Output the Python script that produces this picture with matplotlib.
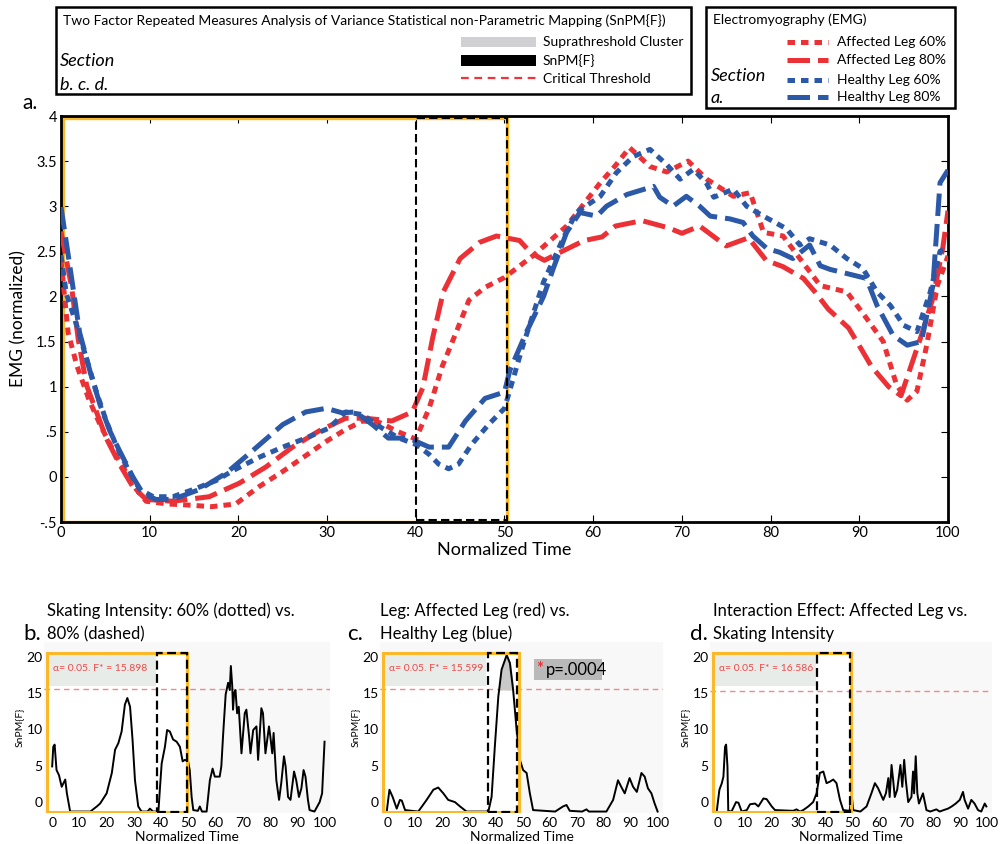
import numpy as np
import matplotlib
matplotlib.use('Agg')
import matplotlib.pyplot as plt
from matplotlib.patches import Rectangle
from matplotlib.lines import Line2D

plt.rcParams['font.family'] = ['Lato', 'DejaVu Sans']

# ---------------- Section a: EMG curves ----------------
aff60_x = [0, 0.8, 1.8, 3.1, 4.4, 5.9, 7.4, 8.5, 9.6, 12, 14, 17, 19.7, 22.3, 25, 27.8, 30, 32, 34, 36, 38,
           40, 41.5, 43, 44.5, 46, 47.8, 50, 53.2, 57, 60.8, 62.5, 64.1, 66.4, 68.3, 70.7, 72.8, 75.8, 77.7,
           79.2, 81.4, 83.3, 85.6, 88.6, 90.8, 92.7, 94.2, 95.4, 96.5, 97.6, 98.8, 100]
aff60_y = [2.4, 1.6, 1.23, 0.87, 0.58, 0.29, 0.04, -0.14, -0.27, -0.3, -0.31, -0.33, -0.3, -0.11, 0.06, 0.25,
           0.4, 0.52, 0.62, 0.6, 0.5, 0.42, 0.76, 1.23, 1.59, 1.96, 2.1, 2.21, 2.45, 2.78, 3.26, 3.45, 3.65,
           3.44, 3.38, 3.5, 3.3, 3.11, 3.15, 2.71, 2.67, 2.42, 2.12, 2.05, 1.76, 1.5, 1.02, 0.85, 0.95, 1.46,
           2.12, 2.45]

aff80_x = [0, 1.2, 1.95, 2.9, 4, 5.1, 6.6, 8.1, 9.6, 12.6, 16.7, 20.1, 23.1, 26.1, 29.1, 32.1, 34.3, 37.3,
           39.6, 40.8, 41.9, 43.1, 45, 47.2, 49.1, 51.7, 53, 54.5, 56.5, 59, 61, 62.5, 65.5, 68.5, 70, 72, 75,
           77.5, 79.5, 81.4, 83.7, 85, 86.5, 88.8, 89.9, 91.4, 93.3, 94.7, 96.9, 98.3, 99.4, 100]
aff80_y = [2.72, 2.1, 1.52, 1.01, 0.72, 0.43, 0.14, -0.11, -0.25, -0.27, -0.22, -0.07, 0.11, 0.33, 0.51, 0.65,
           0.65, 0.62, 0.72, 0.99, 1.54, 2.05, 2.42, 2.6, 2.67, 2.62, 2.48, 2.4, 2.5, 2.62, 2.66, 2.78, 2.84,
           2.76, 2.7, 2.78, 2.56, 2.65, 2.4, 2.33, 2.2, 2.05, 1.86, 1.65, 1.47, 1.22, 1.0, 0.9, 1.54, 1.98,
           2.53, 2.95]

hel60_x = [0, 0.6, 1.8, 2.9, 4, 5.1, 6.3, 7.8, 8.9, 10.4, 12.6, 14.9, 17.5, 19.4, 22.4, 25, 27.6, 30.2, 32.1,
           34, 36.2, 38.1, 40, 41.5, 42.6, 43.7, 44.8, 46.3, 48.2, 50, 52, 54.4, 56.6, 58.1, 60.8, 62.6, 64.5,
           66.4, 68.3, 69.8, 71.3, 72.8, 73.6, 75.8, 77.3, 79.2, 81.8, 83.3, 84.4, 86.7, 88.6, 90.4, 92, 93.5,
           95, 96.5, 98, 99.1, 100]
hel60_y = [2.46, 2.03, 1.67, 1.3, 0.94, 0.62, 0.33, 0.04, -0.14, -0.22, -0.22, -0.14, -0.04, 0.07, 0.22, 0.33,
           0.43, 0.54, 0.72, 0.69, 0.54, 0.43, 0.36, 0.25, 0.14, 0.09, 0.14, 0.36, 0.58, 0.76, 1.43, 2.16, 2.64,
           2.93, 3.11, 3.37, 3.55, 3.63, 3.46, 3.3, 3.41, 3.25, 3.1, 3.19, 3.0, 2.89, 2.75, 2.57, 2.64, 2.57,
           2.42, 2.31, 2.05, 1.9, 1.68, 1.61, 2.05, 2.5, 2.55]

hel80_x = [0, 0.6, 1.2, 2.1, 3.3, 4.4, 5.5, 6.6, 8.1, 9.2, 10.7, 12.6, 15.6, 18.6, 21.6, 25, 27.6, 29.9, 31.7,
           33.2, 35.1, 36.9, 39.2, 41.5, 43.7, 45.6, 47.8, 50, 50.6, 52.5, 54.4, 55.5, 57, 58.5, 60.4, 61.5,
           63.8, 66.8, 67.5, 69, 70.5, 72, 73.2, 75.4, 76.9, 78, 79.6, 81, 82.5, 84.4, 85.6, 86.7, 90.8, 92,
           93.8, 95.4, 97, 98.3, 99.1, 100]
hel80_y = [2.99, 2.6, 2.2, 1.6, 1.16, 0.8, 0.51, 0.29, 0.0, -0.18, -0.25, -0.25, -0.14, 0.04, 0.29, 0.58, 0.72,
           0.76, 0.71, 0.72, 0.58, 0.43, 0.43, 0.33, 0.33, 0.62, 0.87, 0.94, 1.18, 1.61, 2.0, 2.31, 2.71, 2.93,
           2.89, 3.0, 3.13, 3.22, 3.1, 3.0, 3.11, 3.0, 2.89, 2.86, 2.82, 2.67, 2.53, 2.49, 2.42, 2.57, 2.34,
           2.3, 2.2, 1.9, 1.57, 1.46, 1.5, 2.12, 3.26, 3.4]

emg_labels = ['Affected Leg 60%', 'Affected Leg 80%', 'Healthy Leg 60%', 'Healthy Leg 80%']
emg_yticks = [-0.5, 0, 0.5, 1, 1.5, 2, 2.5, 3, 3.5, 4]
emg_yticklabels = ['-.5', '0', '.5', '1', '1.5', '2', '2.5', '3', '3.5', '4']
emg_window = [0.2, 50.3]        # yellow highlight
emg_sig_window = [40, 50.3]     # dashed highlight

# ---------------- Sections b, c, d: SnPM{F} ----------------
spm_b_x = [0, 0.4, 0.9, 1.6, 2.5, 3.5, 4.8, 5.4, 6.6, 14, 16.4, 17.6, 20, 21.9, 23.1, 24.3, 25.5, 26.7, 27.6,
           28.6, 29.5, 30.4, 31.6, 32.8, 35, 35.9, 37, 39, 39.6, 40.2, 41.4, 42.2, 43.2, 44.4, 45.7, 46.9, 47.9,
           48.7, 49.9, 50.5, 51.2, 51.8, 53.5, 54.2, 55, 56.7, 57.9, 58.9, 59.7, 61.5, 62.1, 62.8, 63.7, 64.6,
           65.2, 65.6, 66.1, 66.4, 66.8, 67.3, 67.9, 68.5, 69.5, 70.7, 71.3, 72.3, 72.8, 73.8, 75, 75.6, 76.8,
           77.4, 78.3, 79.6, 80.1, 80.8, 81.3, 82.3, 83.3, 84.1, 85.1, 85.7, 86.6, 87.5, 88.8, 89.6, 90.6,
           91.5, 92.3, 93, 93.9, 94.5, 96.3, 98.2, 99.1, 100]
spm_b_y = [4.9, 7.6, 7.9, 4.4, 3.7, 2.1, 3.1, 1.2, -1.3, -1.3, -0.6, -0.2, 1.2, 4.0, 7.2, 8.1, 9.7, 13.4, 14.3,
           13.1, 8.6, 3.0, -0.6, -1.3, -1.3, -0.9, -1.3, -1.3, 2.1, 5.3, 7.6, 9.9, 9.7, 8.6, 8.3, 7.6, 5.6,
           5.8, 5.6, 4.4, 0.7, -1.1, -1.2, -0.6, -1.3, -1.3, 3.0, 4.6, 3.5, 3.5, 4.9, 9.5, 14.8, 16.4, 15.4,
           18.7, 16.0, 12.7, 15.0, 15.4, 12.2, 13.1, 6.7, 12.2, 12.7, 9.0, 6.7, 9.9, 10.4, 5.8, 12.9, 12.2,
           6.7, 10.4, 9.0, 6.7, 9.5, 3.0, 0.3, 2.6, 6.3, 4.9, 0.7, 0.3, 4.2, 3.0, 0.7, 1.9, 4.4, 3.5, 0.3,
           -1.1, -1.3, 0.0, 1.2, 8.3]

spm_c_x = [-0.5, 0.5, 1.7, 3.2, 4.4, 5.1, 6.3, 11.2, 14.3, 16.8, 18.6, 20.5, 22.3, 24.8, 26.7, 29.1, 37.2,
           38.4, 39.6, 40.9, 42.1, 44, 45.2, 46.4, 47.7, 48.9, 50.1, 51.4, 52.6, 53.8, 62, 64.9, 66.2, 67.4,
           72, 73.6, 74.5, 81, 83.5, 85.3, 86.5, 87.8, 89.6, 90.9, 92.3, 94, 95.2, 96.4, 97.7, 98.9, 100]
spm_c_y = [-1.3, 1.7, 0.7, -0.9, 0.3, 0.2, -1.1, -1.3, 0.3, 1.7, 2.0, 1.2, 0.3, 0.0, -0.6, -1.3, -1.3, 0.7,
           7.6, 14.5, 18.2, 20.2, 19.1, 15.4, 9.9, 5.8, 4.4, 4.0, 1.2, -1.1, -1.3, -0.6, -0.4, -1.2, -1.3,
           -1.0, -1.3, -1.3, 0.3, 3.0, 2.1, 1.2, 3.3, 2.1, 1.4, 4.0, 3.5, 1.9, 1.2, -0.2, -1.3]

spm_d_x = [-0.5, 0.5, 1.4, 2, 2.6, 3, 3.5, 3.8, 5, 6.7, 7.6, 8.8, 10.7, 11.9, 13.8, 15, 16.9, 18.1, 20, 21.2,
           28, 29.2, 30.5, 31.7, 33.6, 35.4, 36.7, 37.9, 39.2, 40.4, 41.6, 42.9, 44.1, 45.4, 46.6, 49, 49.7,
           50.3, 53, 55.3, 57.1, 58.4, 59.6, 61.5, 62.5, 63.4, 63.9, 64.6, 65.2, 65.8, 66.7, 67.9, 68.6, 69.3,
           69.9, 70.8, 72, 72.6, 73, 73.6, 74.2, 74.8, 76.3, 77.6, 79, 81.3, 82.5, 84, 85.6, 87, 88.5, 90,
           91.2, 91.8, 93.1, 94.3, 95.5, 96.8, 98, 99.3, 99.9]
spm_d_y = [-1.3, 1.7, 2.6, 3.5, 7.6, 7.9, 4.9, -1.2, -1.3, 0.0, -0.1, -1.3, -1.1, -0.3, -0.2, -0.6, 0.5, 0.4,
           -0.6, -1.1, -1.2, -1.0, -1.3, -1.1, -0.6, 0.0, 1.2, 4.0, 4.2, 2.6, 2.8, 3.1, 2.6, 0.3, -1.1, -1.2,
           1.2, -1.1, -1.3, -0.6, 1.2, 2.6, 1.9, 0.3, 1.2, 3.3, 0.7, 5.1, 3.0, 0.7, 1.7, 5.1, 2.1, 5.8, 3.0,
           0.0, 0.7, 4.2, 1.2, 6.3, 1.2, -0.2, 1.2, -1.1, -1.3, -1.0, -1.3, -1.1, -0.9, -0.6, -0.2, 0.3, 1.4,
           0.3, -0.9, 0.3, -0.2, -1.1, -1.3, -0.2, -0.6]

spm_titles = ['Skating Intensity: 60% (dotted) vs.\n80% (dashed)',
              'Leg: Affected Leg (red) vs.\nHealthy Leg (blue)',
              'Interaction Effect: Affected Leg vs.\nSkating Intensity']
spm_letters = ['b.', 'c.', 'd.']
spm_fcrit = ['15.898', '15.599', '16.586']
spm_thresh_drawn = [15.5, 15.5, 15.2]
spm_windows = [[-2, 49.5], [-2, 48.5], [-2, 49.4]]
spm_sig_windows = [[38.5, 49.5], [37, 48], [37, 49]]

red = '#ec3136'
blue = '#2b59a8'
yellow = '#fbb829'
dot = (1.5, 1.2)
dash = (4.5, 1.6)
styles = [(red, dot), (red, dash), (blue, dot), (blue, dash)]

fig = plt.figure(figsize=(10.03, 8.44), dpi=100)

# ---- main EMG axes ----
ax = fig.add_axes([61 / 1003, 1 - 522 / 844, 887 / 1003, 406 / 844])
for (xs, ys), (c, d), lab in zip([(aff60_x, aff60_y), (aff80_x, aff80_y), (hel60_x, hel60_y), (hel80_x, hel80_y)],
                                  styles, emg_labels):
    ax.plot(xs, ys, color=c, lw=3.6, dashes=d, dash_capstyle='butt', label=lab, zorder=3)
ax.set_xlim(0, 100)
ax.set_ylim(-0.5, 4)
ax.set_xticks(range(0, 101, 10))
ax.set_yticks(emg_yticks)
ax.set_yticklabels(emg_yticklabels)
ax.tick_params(direction='in', top=True, right=True, labelsize=10.5, length=5, width=0.8, pad=3)
for s in ax.spines.values():
    s.set_linewidth(2)
ax.set_xlabel('Normalized Time', fontsize=13, labelpad=1)
ax.set_ylabel('EMG (normalized)', fontsize=12.5)
ax.yaxis.set_label_coords(-0.039, 0.5)
ax.add_patch(Rectangle((emg_window[0], -0.5), emg_window[1] - emg_window[0], 4.48,
                       fill=False, ec=yellow, lw=2.4, zorder=2))
ax.add_patch(Rectangle((emg_sig_window[0], -0.48), emg_sig_window[1] - emg_sig_window[0], 4.46,
                       fill=False, ec='black', lw=1.5, ls=(0, (4, 2)), zorder=4))

# ---- SnPM panels ----
panel_pos = [[44 / 1003, 31 / 844, 286 / 1003, 171 / 844],
             [380 / 1003, 31 / 844, 283 / 1003, 171 / 844],
             [710 / 1003, 31 / 844, 282 / 1003, 171 / 844]]
spm_data = [(spm_b_x, spm_b_y), (spm_c_x, spm_c_y), (spm_d_x, spm_d_y)]
for i, pos in enumerate(panel_pos):
    a = fig.add_axes(pos, facecolor='#f8f8f8')
    xs, ys = spm_data[i]
    w0, w1 = spm_windows[i]
    s0, s1 = spm_sig_windows[i]
    a.add_patch(Rectangle((w0, -1.4), w1 - w0, 22, fc='white', ec='none', zorder=0))
    a.add_patch(Rectangle((-1.5, 16.0), s0 - 0.5 + 1.5, 4.4, fc='#e8ece8', ec='none', zorder=1))
    a.axhline(spm_thresh_drawn[i], color='#f08a8a', lw=1, dashes=(4, 3), zorder=1)
    if i == 1:
        xx = np.array(xs)
        yy = np.array(ys)
        a.fill_between(xx, spm_thresh_drawn[i], yy, where=yy > spm_thresh_drawn[i],
                       interpolate=True, color='#c9c9c9', zorder=2)
        a.add_patch(Rectangle((54, 16.8), 25.5, 2.9, fc='#b9b9b9', ec='none', zorder=2))
        a.text(55.0, 18.3, '*', color=red, fontsize=12, fontweight='bold', va='center', zorder=3)
        a.text(58.6, 18.1, 'p=.0004', color='black', fontsize=12, va='center', zorder=3)
    a.plot(xs, ys, color='black', lw=1.4, zorder=3)
    a.add_patch(Rectangle((w0, -1.4), w1 - w0, 21.95, fill=False, ec=yellow, lw=2.2, zorder=4))
    a.add_patch(Rectangle((s0, -1.4), s1 - s0, 21.95, fill=False, ec='black', lw=1.6,
                          ls=(0, (4, 2)), zorder=5))
    a.text(0.3, 18.3, '\u03b1= 0.05. F* = ' + spm_fcrit[i], color='#f04848', fontsize=7.5,
           va='center', zorder=3)
    a.set_xlim(-3, 102)
    a.set_ylim(-1.5, 22)
    a.set_xticks(range(0, 101, 10))
    a.set_yticks([0, 5, 10, 15, 20])
    a.tick_params(length=0, labelsize=10, pad=3)
    a.tick_params(axis='y', pad=1)
    for s in a.spines.values():
        s.set_visible(False)
    a.set_xlabel('Normalized Time', fontsize=10, labelpad=1)
    a.set_ylabel('SnPM{F}', fontsize=7.5, labelpad=2)

# ---- overlay for legends, titles and section letters (pixel coordinates) ----
ov = fig.add_axes([0, 0, 1, 1])
ov.set_xlim(0, 1003)
ov.set_ylim(844, 0)
ov.axis('off')

ov.add_patch(Rectangle((56, 7), 635, 87, fill=False, ec='black', lw=1.8))
ov.text(63, 21, 'Two Factor Repeated Measures Analysis of Variance Statistical non-Parametric Mapping (SnPM{F})',
        fontsize=10, va='center')
ov.text(60, 61, 'Section', fontsize=13, style='italic', va='center')
ov.text(60, 85, 'b. c. d.', fontsize=13, style='italic', va='center')
ov.add_patch(Rectangle((461, 37), 75, 10, fc='#d0d0d2', ec='none'))
ov.add_patch(Rectangle((461, 55), 75, 11, fc='black', ec='none'))
ov.add_line(Line2D([461, 536], [78, 78], color='#f0353a', lw=1.6, dashes=(3.5, 2.5)))
for yy, lab in zip([42, 61, 79], ['Suprathreshold Cluster', 'SnPM{F}', 'Critical Threshold']):
    ov.text(543, yy, lab, fontsize=10, va='center')

ov.add_patch(Rectangle((706, 7), 249, 101, fill=False, ec='black', lw=1.8))
ov.text(713, 20, 'Electromyography (EMG)', fontsize=10, va='center')
ov.text(711, 76, 'Section', fontsize=13, style='italic', va='center')
ov.text(711, 98, 'a.', fontsize=13, style='italic', va='center')
for yy, (c, d), lab in zip([42, 60, 80, 97], styles, emg_labels):
    ov.add_line(Line2D([787, 828], [yy, yy], color=c, lw=3.6, dashes=d, dash_capstyle='butt'))
    ov.text(837, yy, lab, fontsize=10, va='center')

ov.text(22, 103, 'a.', fontsize=15, va='center')

title_x = [47, 380, 713]
letter_x = [23, 347, 690]
for tx, lx, t, l in zip(title_x, letter_x, spm_titles, spm_letters):
    l1, l2 = t.split('\n')
    ov.text(tx, 611, l1, fontsize=12, va='center')
    ov.text(tx, 634, l2, fontsize=12, va='center')
    ov.text(lx, 634, l, fontsize=16, va='center')

fig.savefig('out.png', dpi=100)
